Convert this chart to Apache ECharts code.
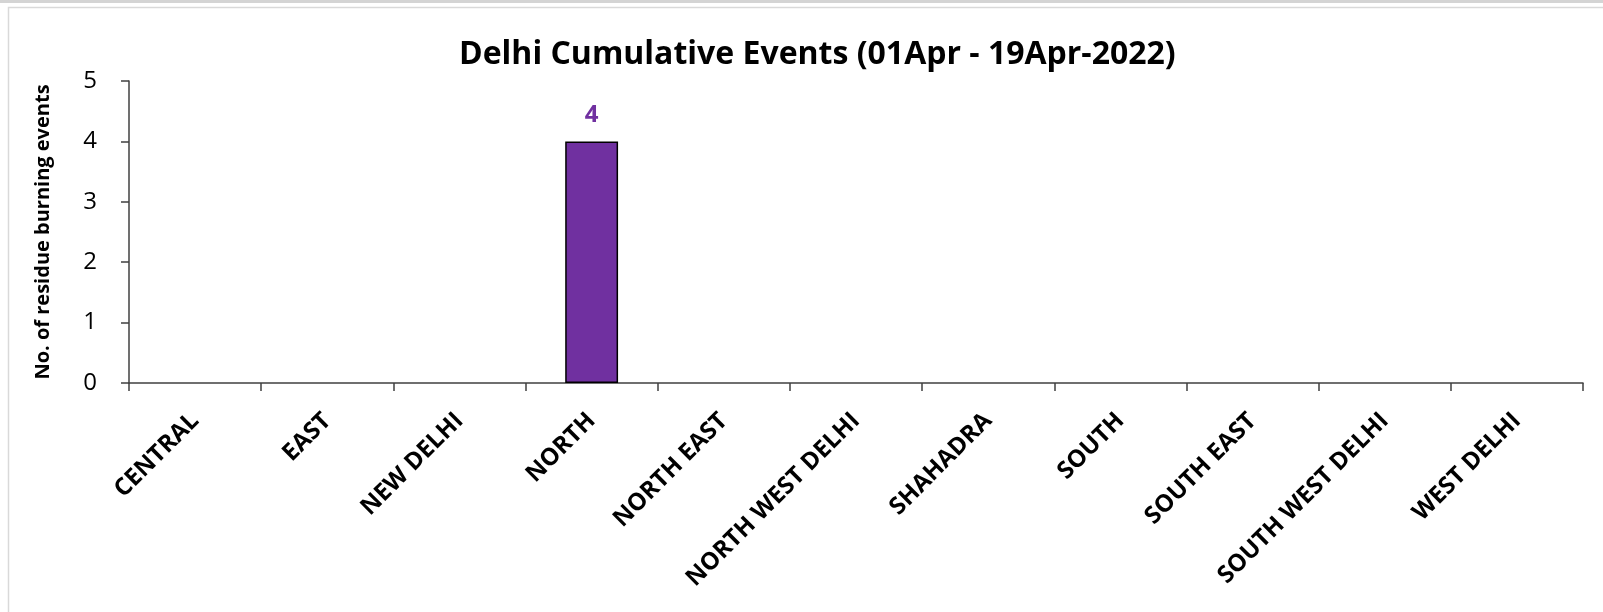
<!DOCTYPE html>
<html>
<head>
  <meta charset="utf-8">
  <title>Delhi Cumulative Events</title>
  <style>
    html, body { margin: 0; padding: 0; background: #fff; }
    #chart { width: 1603px; height: 612px; }
  </style>
</head>
<body>
  <div id="chart"></div>
  <script src="https://cdn.jsdelivr.net/npm/echarts@6/dist/echarts.min.js"></script>
  <script>
    // data
    const districts = ['CENTRAL', 'EAST', 'NEW DELHI', 'NORTH', 'NORTH EAST', 'NORTH WEST DELHI',
      'SHAHADRA', 'SOUTH', 'SOUTH EAST', 'SOUTH WEST DELHI', 'WEST DELHI']
    const events = [0, 0, 0, 4, 0, 0, 0, 0, 0, 0, 0]
    const yTicks = [0, 1, 2, 3, 4, 5]

    const font = '"Open Sans", "Noto Sans", sans-serif'
    const purple = '#7030A0'

    let chart = echarts.init(document.getElementById('chart'))

    // zero bars have no visible outline in the original
    let barData = events.map((v) => ({
      value: v,
      itemStyle: v ? {} : { borderWidth: 0, opacity: 0 },
    }))

    let option = {
      animation: false,
      backgroundColor: '#fff',
      textStyle: { fontFamily: font },
      title: {
        text: 'Delhi Cumulative Events (01Apr - 19Apr-2022)',
        left: 454,
        top: 34,
        textStyle: { fontFamily: font, fontSize: 32, fontWeight: 'bold', color: '#000' },
      },
      graphic: [
        {
          type: 'rect',
          shape: { x: 0, y: 0, width: 1603, height: 3 },
          style: { fill: '#d4d4d4' },
          silent: true,
        },
        {
          type: 'rect',
          shape: { x: 8.5, y: 7.5, width: 1600, height: 610 },
          style: { fill: 'none', stroke: '#d9d9d9', lineWidth: 1.5 },
          silent: true,
        },
      ],
      grid: {
        left: 129,
        right: 20,
        top: 81,
        bottom: 229,
        containLabel: false,
      },
      xAxis: {
        type: 'category',
        data: districts,
        axisLine: { show: true, lineStyle: { color: '#404040', width: 1.5 } },
        axisTick: { show: true, length: 8, lineStyle: { color: '#404040', width: 1.5 } },
        axisLabel: {
          rotate: 45,
          interval: 0,
          margin: 34,
          color: '#000',
          fontFamily: font,
          fontSize: 24,
          fontWeight: 'bold',
        },
      },
      yAxis: {
        type: 'value',
        min: yTicks[0],
        max: yTicks[yTicks.length - 1],
        interval: 1,
        name: 'No. of residue burning events',
        nameLocation: 'middle',
        nameGap: 76,
        nameRotate: 90,
        nameTextStyle: { color: '#000', fontFamily: font, fontSize: 20, fontWeight: 'bold' },
        axisLine: { show: true, lineStyle: { color: '#404040', width: 1.5 } },
        axisTick: { show: true, inside: false, length: 8, lineStyle: { color: '#404040', width: 1.5 } },
        axisLabel: { color: '#000', fontFamily: font, fontSize: 24, margin: 32 },
        splitLine: { show: false },
      },
      series: [
        {
          type: 'bar',
          data: barData,
          barWidth: '40%',
          itemStyle: { color: purple, borderColor: '#000', borderWidth: 1.5 },
          label: {
            show: true,
            position: 'top',
            distance: 14,
            color: purple,
            fontFamily: font,
            fontSize: 24,
            fontWeight: 'bold',
            formatter: (p) => (p.value ? String(p.value) : ''),
          },
        },
      ],
    }

    chart.setOption(option)
  </script>
</body>
</html>
